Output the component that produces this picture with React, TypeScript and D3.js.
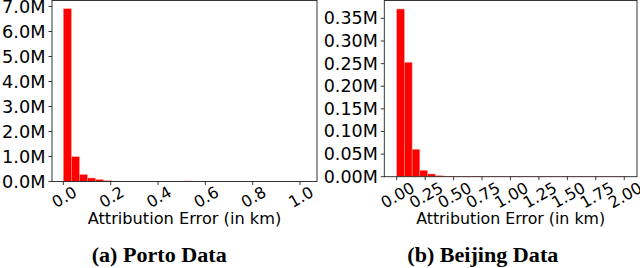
import React from "react";
import * as d3 from "d3";

// Porto histogram: bin width (km) and counts (in millions)
const portoBinWidth = 0.034;
const portoCounts = [6.91, 0.99, 0.28, 0.14, 0.075, 0.03, 0.014, 0.009, 0.007, 0.006, 0.005, 0.004, 0.004, 0.003, 0.003, 0.02, 0.003, 0.002, 0.002, 0.002, 0.001, 0.001, 0.001, 0.001, 0.001, 0.001, 0.001, 0.001, 0.001, 0.001];
const portoYTicks = [0, 1, 2, 3, 4, 5, 6, 7];
const portoXTicks = [0, 0.2, 0.4, 0.6, 0.8, 1.0];

// Beijing histogram
const beijingBinWidth = 0.0677;
const beijingCounts = [0.3707, 0.2529, 0.0606, 0.0141, 0.006, 0.0022, 0.0009, 0.0005, 0.0004, 0.0003, 0.0008, 0.0002, 0.0002, 0.0002, 0.0002, 0.0008, 0.0001, 0.0001, 0.0001, 0.0001, 0.0001, 0.0001, 0.0001, 0.0001, 0.0001, 0.0001, 0.0001, 0.0001, 0.0001, 0.0001];
const beijingYTicks = [0, 0.05, 0.1, 0.15, 0.2, 0.25, 0.3, 0.35];
const beijingXTicks = [0, 0.25, 0.5, 0.75, 1.0, 1.25, 1.5, 1.75, 2.0];

const xLabelText = "Attribution Error (in km)";
const captions = ["(a) Porto Data", "(b) Beijing Data"];

type PanelProps = {
  counts: number[];
  binWidth: number;
  xTicks: number[];
  yTicks: number[];
  xDomain: [number, number];
  yDomain: [number, number];
  left: number;
  right: number;
  bottom: number;
  yTop: number;
  yFmt: (v: number) => string;
  xFmt: (v: number) => string;
  tickFont: number;
  xTickFont: number;
  labelFont: number;
  xTickOffset: number;
  caption: string;
  captionX: number;
  captionWidth: number;
};

function Panel(p: PanelProps) {
  const x = d3.scaleLinear().domain(p.xDomain).range([p.left, p.right]);
  const y = d3.scaleLinear().domain(p.yDomain).range([p.bottom, p.yTop]);
  const cx = (p.left + p.right) / 2;
  return (
    <g>
      {p.counts.map((c, i) => {
        const x0 = x(i * p.binWidth);
        const x1 = x((i + 1) * p.binWidth);
        const yv = y(c);
        return (
          <rect
            key={i}
            x={x0}
            y={yv}
            width={x1 - x0}
            height={p.bottom - yv}
            fill="#ff0000"
            stroke="#ff9a9a"
            strokeWidth={0.5}
          />
        );
      })}
      <rect
        x={p.left}
        y={0.5}
        width={p.right - p.left}
        height={p.bottom - 0.5}
        fill="none"
        stroke="#222"
        strokeWidth={0.9}
      />
      {p.yTicks.map((t) => (
        <g key={"y" + t}>
          <line x1={p.left - 3.5} x2={p.left} y1={y(t)} y2={y(t)} stroke="#222" strokeWidth={0.9} />
          <text
            x={p.left - 6.5}
            y={y(t)}
            textAnchor="end"
            dominantBaseline="central"
            fontFamily="DejaVu Sans"
            fontSize={p.tickFont}
            fill="#000"
          >
            {p.yFmt(t)}
          </text>
        </g>
      ))}
      {p.xTicks.map((t) => (
        <g key={"x" + t}>
          <line x1={x(t)} x2={x(t)} y1={p.bottom} y2={p.bottom + 3.5} stroke="#222" strokeWidth={0.9} />
          <text
            x={x(t) + 1}
            y={p.bottom + p.xTickOffset}
            textAnchor="middle"
            dominantBaseline="central"
            fontFamily="DejaVu Sans"
            fontSize={p.xTickFont}
            fill="#000"
            transform={`rotate(-30 ${x(t) + 1} ${p.bottom + p.xTickOffset})`}
          >
            {p.xFmt(t)}
          </text>
        </g>
      ))}
      <text
        x={cx}
        y={223.5}
        textAnchor="middle"
        fontFamily="DejaVu Sans"
        fontSize={p.labelFont}
        fill="#000"
      >
        {xLabelText}
      </text>
      <text
        x={p.captionX}
        y={261.5}
        textAnchor="middle"
        fontFamily="Liberation Serif"
        fontWeight="bold"
        fontSize={20}
        fill="#000"
        textLength={p.captionWidth}
        lengthAdjust="spacingAndGlyphs"
      >
        {p.caption}
      </text>
    </g>
  );
}

export default function App() {
  return (
    <svg
      width={640}
      height={268}
      style={{ position: "absolute", left: 0, top: 0, background: "#fff", display: "block" }}
    >
      <rect x={0} y={0} width={640} height={268} fill="#fff" />
      <Panel
        counts={portoCounts}
        binWidth={portoBinWidth}
        xTicks={portoXTicks}
        yTicks={portoYTicks}
        xDomain={[-0.048, 1.072]}
        yDomain={[0, 7]}
        left={52}
        right={317}
        bottom={181.5}
        yTop={6.5}
        yFmt={(v) => v.toFixed(1) + "M"}
        xFmt={(v) => v.toFixed(1)}
        tickFont={17.7}
        xTickFont={16}
        labelFont={16.2}
        xTickOffset={15.5}
        caption={captions[0]}
        captionX={159.2}
        captionWidth={135}
      />
      <Panel
        counts={beijingCounts}
        binWidth={beijingBinWidth}
        xTicks={beijingXTicks}
        yTicks={beijingYTicks}
        xDomain={[-0.109, 2.112]}
        yDomain={[0, 0.35]}
        left={384.3}
        right={637}
        bottom={176.7}
        yTop={18.4}
        yFmt={(v) => v.toFixed(2) + "M"}
        xFmt={(v) => v.toFixed(2)}
        tickFont={17.5}
        xTickFont={16}
        labelFont={15.8}
        xTickOffset={18.5}
        caption={captions[1]}
        captionX={482.8}
        captionWidth={151}
      />
    </svg>
  );
}
